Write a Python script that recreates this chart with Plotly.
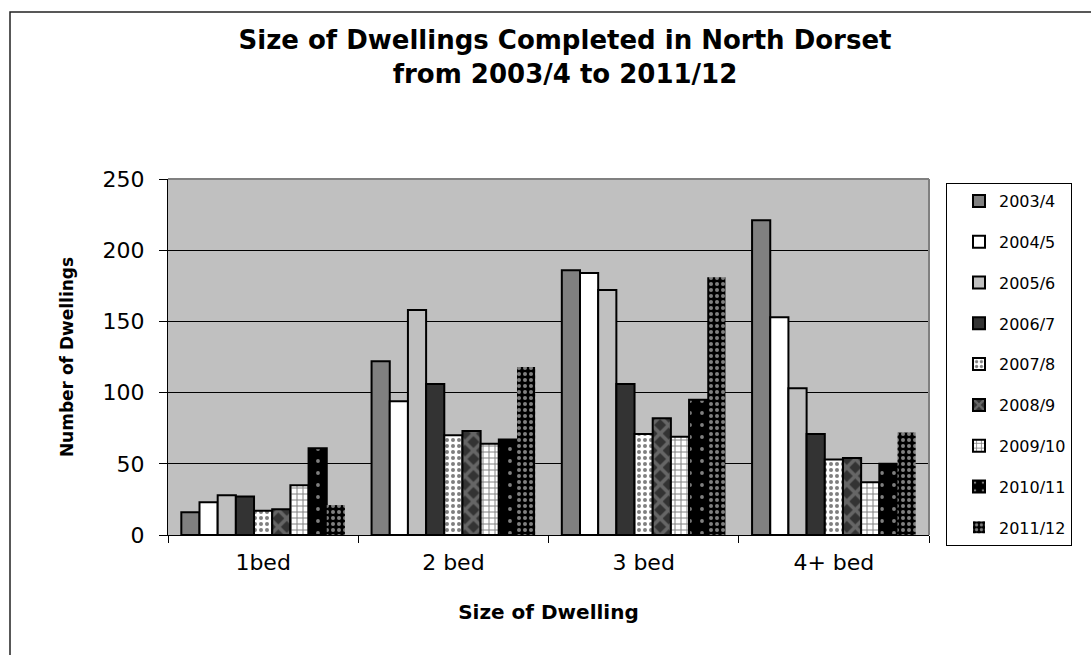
import plotly.graph_objects as go

categories = ["1bed", "2 bed", "3 bed", "4+ bed"]
years = ["2003/4", "2004/5", "2005/6", "2006/7", "2007/8", "2008/9", "2009/10", "2010/11", "2011/12"]
v_2003_4 = [16, 122, 186, 221]
v_2004_5 = [23, 94, 184, 153]
v_2005_6 = [28, 158, 172, 103]
v_2006_7 = [27, 106, 106, 71]
v_2007_8 = [17, 70, 71, 53]
v_2008_9 = [18, 73, 82, 54]
v_2009_10 = [35, 64, 69, 37]
v_2010_11 = [61, 67, 95, 50]
v_2011_12 = [21, 118, 181, 72]
series = [v_2003_4, v_2004_5, v_2005_6, v_2006_7, v_2007_8, v_2008_9, v_2009_10, v_2010_11, v_2011_12]

styles = [
    dict(color="#808080"),
    dict(color="#ffffff"),
    dict(color="#c0c0c0"),
    dict(color="#333333"),
    dict(color="#ffffff", pattern=dict(shape=".", fgcolor="#000000", bgcolor="#ffffff", size=6, solidity=0.35)),
    dict(color="#333333", pattern=dict(shape="x", fgcolor="#9a9a9a", bgcolor="#333333", size=12, solidity=0.5)),
    dict(color="#ffffff", pattern=dict(shape="+", fgcolor="#000000", bgcolor="#ffffff", size=6, solidity=0.3)),
    dict(color="#000000", pattern=dict(shape=".", fgcolor="#ffffff", bgcolor="#000000", size=12, solidity=0.08)),
    dict(color="#000000", pattern=dict(shape=".", fgcolor="#ffffff", bgcolor="#000000", size=6, solidity=0.35)),
]

FONT = "DejaVu Sans"
fig = go.Figure()
for i, (name, vals, st) in enumerate(zip(years, series, styles)):
    marker = dict(line=dict(color="#000000", width=2 if i < 8 else 0))
    marker.update(st)
    fig.add_trace(go.Bar(name=name, x=categories, y=vals, marker=marker, legendgroup=name))

W, H = 1091, 655
L, R, T, B = 168, 162, 179, 120
pw, ph = W - L - R, H - T - B

def px_x(p):
    return (p - L) / pw

def px_y(p):
    return (H - B - p) / ph

fig.update_layout(
    width=W, height=H,
    margin=dict(l=L, r=R, t=T, b=B, autoexpand=False),
    paper_bgcolor="#ffffff",
    plot_bgcolor="#c0c0c0",
    barmode="group",
    bargap=0.14,
    bargroupgap=0,
    font=dict(family=FONT, color="#000000"),
    title=dict(
        text="<b>Size of Dwellings Completed in North Dorset<br>from 2003/4 to 2011/12</b>",
        font=dict(size=26, family=FONT),
        x=px_x(565), xref="paper", xanchor="center",
        y=1 - 49 / H, yref="container", yanchor="middle",
    ),
    xaxis=dict(
        showline=True, linecolor="#000000", linewidth=1,
        ticks="outside", tickson="boundaries", ticklen=7, tickcolor="#000000",
        ticklabelstandoff=8,
        tickfont=dict(size=22, family=FONT),
        title=dict(text="<b>Size of Dwelling</b>", font=dict(size=20, family=FONT), standoff=30),
        showgrid=False,
    ),
    yaxis=dict(
        range=[0, 250], dtick=50,
        showline=True, linecolor="#000000", linewidth=1,
        ticks="outside", ticklen=8, tickcolor="#000000",
        ticklabelstandoff=10,
        tickfont=dict(size=22, family=FONT),
        showgrid=True, gridcolor="#000000", gridwidth=1,
        zeroline=False,
        title=dict(text="<b>Number of Dwellings</b>", font=dict(size=17, family=FONT), standoff=24),
    ),
    legend=dict(
        x=px_x(946), y=px_y(183), xanchor="left", yanchor="top",
        xref="paper", yref="paper",
        bordercolor="#000000", borderwidth=1, bgcolor="#ffffff",
        font=dict(size=16, family=FONT),
        traceorder="grouped", tracegroupgap=17,
        itemwidth=30, indentation=12,
        entrywidth=130, entrywidthmode="pixels",
        maxheight=420,
    ),
    shapes=[
        dict(type="line", xref="paper", yref="paper", x0=0, x1=1, y0=1, y1=1,
             line=dict(color="#808080", width=2)),
        dict(type="line", xref="paper", yref="paper", x0=1, x1=1, y0=0, y1=1,
             line=dict(color="#808080", width=2)),
        dict(type="rect", xref="paper", yref="paper",
             x0=px_x(10), x1=px_x(1130), y0=px_y(12), y1=px_y(700),
             line=dict(color="#222222", width=1.5)),
    ],
)

fig.write_html("out.html")
